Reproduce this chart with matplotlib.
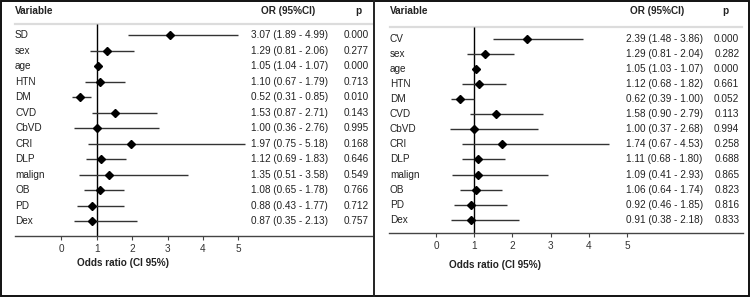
import matplotlib
matplotlib.use("Agg")
import matplotlib.pyplot as plt
from matplotlib.patches import Rectangle
from matplotlib.lines import Line2D

plt.rcParams['font.family'] = ['Liberation Sans', 'DejaVu Sans']

# ---------------- data ----------------
left_vars = ["SD", "sex", "age", "HTN", "DM", "CVD", "CbVD", "CRI", "DLP", "malign", "OB", "PD", "Dex"]
left_or = [3.07, 1.29, 1.05, 1.10, 0.52, 1.53, 1.00, 1.97, 1.12, 1.35, 1.08, 0.88, 0.87]
left_lo = [1.89, 0.81, 1.04, 0.67, 0.31, 0.87, 0.36, 0.75, 0.69, 0.51, 0.65, 0.43, 0.35]
left_hi = [4.99, 2.06, 1.07, 1.79, 0.85, 2.71, 2.76, 5.18, 1.83, 3.58, 1.78, 1.77, 2.13]
left_p = ["0.000", "0.277", "0.000", "0.713", "0.010", "0.143", "0.995", "0.168", "0.646", "0.549", "0.766", "0.712", "0.757"]

right_vars = ["CV", "sex", "age", "HTN", "DM", "CVD", "CbVD", "CRI", "DLP", "malign", "OB", "PD", "Dex"]
right_or = [2.39, 1.29, 1.05, 1.12, 0.62, 1.58, 1.00, 1.74, 1.11, 1.09, 1.06, 0.92, 0.91]
right_lo = [1.48, 0.81, 1.03, 0.68, 0.39, 0.90, 0.37, 0.67, 0.68, 0.41, 0.64, 0.46, 0.38]
right_hi = [3.86, 2.04, 1.07, 1.82, 1.00, 2.79, 2.68, 4.53, 1.80, 2.93, 1.74, 1.85, 2.18]
right_p = ["0.000", "0.282", "0.000", "0.661", "0.052", "0.113", "0.994", "0.258", "0.688", "0.865", "0.823", "0.816", "0.833"]

x_ticks = [0, 1, 2, 3, 4, 5]
header_var = "Variable"
header_or = "OR (95%CI)"
header_p = "p"
x_label = "Odds ratio (CI 95%)"

FW, FH = 750, 297
fig = plt.figure(figsize=(FW / 100, FH / 100), dpi=100)

FS = 7.2
TXT = '#222222'


def panel(L, W, x0px, s, y0, sp, hdr_y, line_y, axis_y, xlab_y,
          var_x, or_x, p_x, orh_x, ph_x, xlab_x, line_x1, axis_x0, axis_x1,
          names, ors, los, his, ps):
    ax = fig.add_axes([L / FW, 0, W / FW, 1])
    ax.set_xlim((L - x0px) / s, (L + W - x0px) / s)
    ax.set_ylim((FH - y0) / sp, (0 - y0) / sp)
    px = lambda p: (p - x0px) / s
    py = lambda p: (p - y0) / sp
    for sp_name in ['top', 'left', 'right']:
        ax.spines[sp_name].set_visible(False)
    ax.set_yticks([])
    ax.patch.set_alpha(0)

    rows = list(range(len(names)))
    # whiskers and points
    ax.hlines(rows, los, his, color='#333333', lw=1.0, zorder=2)
    ax.plot(ors, rows, 'D', color='black', ms=3.8, zorder=3)
    # reference line
    ax.vlines(1, py(line_y), py(axis_y), color='black', lw=1.0, zorder=1)

    # header
    ax.text(px(var_x), py(hdr_y), header_var, fontsize=FS, fontweight='bold', ha='left', va='center', color=TXT)
    ax.text(px(orh_x), py(hdr_y), header_or, fontsize=FS, fontweight='bold', ha='center', va='center', color=TXT)
    ax.text(px(ph_x), py(hdr_y), header_p, fontsize=FS, fontweight='bold', ha='center', va='center', color=TXT)
    ax.plot([px(var_x), px(line_x1)], [py(line_y), py(line_y)], color='#dcdcdc', lw=1.6, zorder=0)

    for i, n in enumerate(names):
        ax.text(px(var_x), i, n, fontsize=FS, ha='left', va='center', color=TXT)
        ax.text(px(or_x), i, f"{ors[i]:.2f} ({los[i]:.2f} - {his[i]:.2f})",
                fontsize=FS, ha='left', va='center', color=TXT)
        ax.text(px(p_x), i, ps[i], fontsize=FS, ha='right', va='center', color=TXT)

    # x axis
    ax.spines['bottom'].set_position(('data', py(axis_y)))
    ax.spines['bottom'].set_bounds(px(axis_x0), px(axis_x1))
    ax.spines['bottom'].set_color('#444444')
    ax.spines['bottom'].set_linewidth(1.0)
    ax.set_xticks(x_ticks)
    ax.set_xticklabels([str(t) for t in x_ticks])
    ax.tick_params(axis='x', direction='out', length=3, width=0.8, color='#444444',
                   labelsize=FS, labelcolor='#333333', pad=2.5)
    ax.set_xlabel(x_label, fontsize=FS, fontweight='bold', color=TXT)
    ax.xaxis.set_label_coords((xlab_x - L) / W, 1 - xlab_y / FH)
    ax.xaxis.label.set_va('center')
    return ax


panel(L=0, W=374, x0px=61.3, s=35.4, y0=35, sp=15.52, hdr_y=11, line_y=24, axis_y=236.3, xlab_y=263,
      var_x=15, or_x=251, p_x=369, orh_x=288, ph_x=358, xlab_x=122.8, line_x1=373, axis_x0=15, axis_x1=373,
      names=left_vars, ors=left_or, los=left_lo, his=left_hi, ps=left_p)

panel(L=375, W=374, x0px=436, s=38.2, y0=39, sp=15.06, hdr_y=10.7, line_y=27, axis_y=233.3, xlab_y=265,
      var_x=390, or_x=625.7, p_x=739.3, orh_x=657, ph_x=725.7, xlab_x=495, line_x1=742, axis_x0=389, axis_x1=743,
      names=right_vars, ors=right_or, los=right_lo, his=right_hi, ps=right_p)

# borders
fig.add_artist(Rectangle((0.5 / FW, 0.8 / FH), (FW - 1.8) / FW, (FH - 1.8) / FH, transform=fig.transFigure,
                         fill=False, edgecolor='#111111', lw=1.4))
fig.add_artist(Line2D([374 / FW, 374 / FW], [0, 1], transform=fig.transFigure, color='#222222', lw=1.4))

fig.savefig("out.png", dpi=100)
